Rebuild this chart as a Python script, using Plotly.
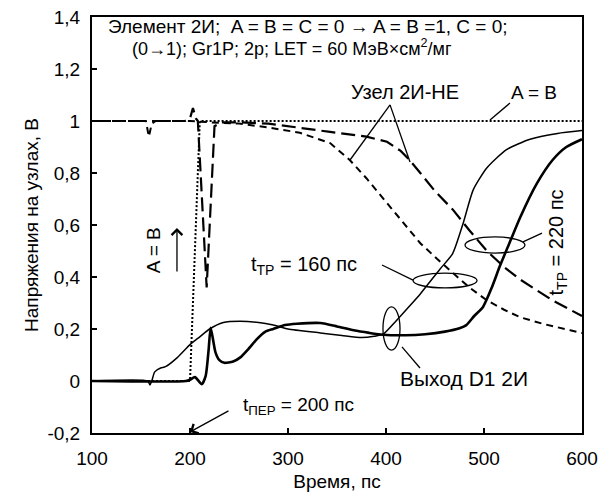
import plotly.graph_objects as go

# ---------------- data ----------------
# input signal A = B (dotted)
t_in = [100, 200, 210, 600]
v_in = [0, 0, 1, 1]

# output D1 2И, t_ТР = 160 ps (thin solid)
t_out160 = [100, 157, 159, 161, 164, 170, 175, 187, 200, 210, 220, 234, 251, 270, 285, 300,
            333, 355, 375, 388, 397, 410, 422, 435, 455, 468, 479, 489, 503, 523, 547, 575, 600]
v_out160 = [0, 0, -0.015, 0.0, 0.035, 0.05, 0.055, 0.09, 0.14, 0.17, 0.20, 0.225, 0.23, 0.225, 0.215, 0.2,
            0.185, 0.175, 0.167, 0.172, 0.18, 0.23, 0.28, 0.335, 0.43, 0.49, 0.61, 0.735, 0.82, 0.89, 0.93, 0.952, 0.963]

# output D1 2И, t_ТР = 220 ps (thick solid)
t_out220 = [100, 196, 200, 205, 212, 216, 219, 221, 223, 226, 230, 235, 244, 251, 260, 268, 277, 285,
            297, 309, 333, 350, 367, 383, 397, 420, 440, 460, 475, 482, 490, 499, 508, 516, 527, 537,
            554, 570, 584, 600]
v_out220 = [0, 0, 0.005, 0.015, -0.012, 0.02, 0.12, 0.205, 0.17, 0.11, 0.08, 0.07, 0.075, 0.09, 0.125, 0.16, 0.19, 0.2,
            0.215, 0.22, 0.223, 0.21, 0.195, 0.185, 0.178, 0.176, 0.18, 0.19, 0.203, 0.215, 0.25, 0.285, 0.36, 0.44, 0.54, 0.63,
            0.76, 0.85, 0.9, 0.93]

# node 2И-НЕ, t_ТР = 220 ps (long dash)
t_node220 = [100, 195, 200, 203, 206, 208, 217, 225, 232, 250, 280, 312, 343, 380, 401, 415, 424, 435,
             450, 468, 485, 503, 520, 537, 555, 570, 585, 600]
v_node220 = [1, 1, 1.01, 1.05, 1.01, 1.0, 0.36, 0.98, 0.995, 0.995, 0.99, 0.975, 0.958, 0.94, 0.92, 0.885, 0.85, 0.80,
             0.73, 0.66, 0.58, 0.50, 0.44, 0.39, 0.345, 0.31, 0.28, 0.25]

# node 2И-НЕ, t_ТР = 160 ps (short dash)
t_node160 = [100, 155, 158, 161, 165, 200, 220, 250, 280, 312, 343, 363, 380, 400, 424, 435, 452, 468,
             485, 503, 520, 537, 560, 588, 600]
v_node160 = [1, 1, 0.94, 0.99, 1.0, 1.0, 0.995, 0.99, 0.975, 0.955, 0.915, 0.85, 0.78, 0.69, 0.58, 0.53, 0.47, 0.415,
             0.36, 0.31, 0.275, 0.245, 0.22, 0.195, 0.185]

x_ticks = [100, 200, 300, 400, 500, 600]
y_ticks = [-0.2, 0, 0.2, 0.4, 0.6, 0.8, 1.0, 1.2, 1.4]
y_tick_labels = ["-0,2", "0", "0,2", "0,4", "0,6", "0,8", "1", "1,2", "1,4"]

FONT = "Liberation Sans, Arial, sans-serif"
BLACK = "#000000"
FS = 19

fig = go.Figure()
fig.add_trace(go.Scatter(x=t_in, y=v_in, mode="lines", line=dict(color=BLACK, width=2, dash="2px,2px")))
fig.add_trace(go.Scatter(x=t_node160, y=v_node160, mode="lines", line=dict(color=BLACK, width=2, dash="7px,5px")))
fig.add_trace(go.Scatter(x=t_node220, y=v_node220, mode="lines", line=dict(color=BLACK, width=2.2, dash="14px,6px")))
fig.add_trace(go.Scatter(x=t_out160, y=v_out160, mode="lines", line=dict(color=BLACK, width=1.5, shape="spline", smoothing=0.6)))
fig.add_trace(go.Scatter(x=t_out220, y=v_out220, mode="lines", line=dict(color=BLACK, width=2.6, shape="spline", smoothing=0.6)))

lw = dict(color=BLACK, width=1.3)
shapes = [
    # ellipses
    dict(type="circle", xref="x", yref="y", x0=427.6, x1=492.9, y0=0.358, y1=0.415, line=lw),
    dict(type="circle", xref="x", yref="y", x0=480.6, x1=541.8, y0=0.492, y1=0.554, line=lw),
    dict(type="circle", xref="x", yref="y", x0=396.9, x1=414.3, y0=0.119, y1=0.285, line=lw),
    # leader lines
    dict(type="line", xref="x", yref="y", x0=404.1, y0=1.062, x1=363.3, y1=0.85, line=lw),
    dict(type="line", xref="x", yref="y", x0=404.1, y0=1.062, x1=424.5, y1=0.842, line=lw),
    dict(type="line", xref="x", yref="y", x0=526.5, y0=1.069, x1=506.1, y1=1.004, line=lw),
    dict(type="line", xref="x", yref="y", x0=395.9, y0=0.446, x1=427.6, y1=0.388, line=lw),
    dict(type="line", xref="x", yref="y", x0=539.8, y0=0.535, x1=559.2, y1=0.569, line=lw),
    dict(type="line", xref="x", yref="y", x0=416.3, y0=0.131, x1=434.7, y1=0.05, line=lw),
]

def tfont(size):
    return dict(family=FONT, size=size, color=BLACK)

ann = [
    dict(x=320.4, y=1.365, text="Элемент 2И;  A = B = C = 0 → A = B =1, C = 0;", font=tfont(19)),
    dict(x=304.0, y=1.283, text="(0→1); Gr1P; 2p; LET = 60 МэВ×см<sup>2</sup>/мг", font=tfont(18)),
    dict(x=419.4, y=1.11, text="Узел 2И-НЕ", font=tfont(20)),
    dict(x=551.0, y=1.11, text="A = B", font=tfont(19)),
    dict(x=163.5, y=0.504, text="A = B", textangle=-90, font=tfont(19)),
    dict(x=316.0, y=0.446, text="t<sub>ТР</sub> = 160 пс", font=tfont(20)),
    dict(x=575.0, y=0.531, text="t<sub>ТР</sub> = 220 пс", textangle=-90, font=tfont(20)),
    dict(x=479.6, y=0.008, text="Выход D1 2И", font=tfont(21)),
    dict(x=311.0, y=-0.096, text="t<sub>ПЕР</sub> = 200 пс", font=tfont(19)),
]
annotations = []
for a in ann:
    d = dict(xref="x", yref="y", showarrow=False, xanchor="center", yanchor="middle")
    d.update(a)
    annotations.append(d)
# arrows
annotations.append(dict(xref="x", yref="y", axref="x", ayref="y", x=186.7, y=0.588, ax=186.7, ay=0.415,
                        text="", showarrow=True, arrowhead=4, arrowsize=1.6, arrowwidth=1.3, arrowcolor=BLACK))
annotations.append(dict(xref="x", yref="y", axref="x", ayref="y", x=200.0, y=-0.196, ax=240.8, ay=-0.112,
                        text="", showarrow=True, arrowhead=4, arrowsize=1.6, arrowwidth=1.3, arrowcolor=BLACK))

fig.update_layout(
    width=611, height=493,
    margin=dict(l=92, r=29, t=17, b=60),
    paper_bgcolor="white", plot_bgcolor="white",
    showlegend=False,
    font=dict(family=FONT, size=FS, color=BLACK),
    shapes=shapes,
    annotations=annotations,
    xaxis=dict(range=[100, 600], tickvals=x_ticks, ticks="inside", ticklen=5, tickwidth=1.5,
               tickcolor=BLACK, showline=True, linecolor=BLACK, linewidth=2, mirror=True,
               showgrid=False, zeroline=False, tickfont=dict(size=FS), ticklabelstandoff=7,
               automargin=False,
               title=dict(text="Время, пс", font=dict(size=FS), standoff=7)),
    yaxis=dict(range=[-0.2, 1.4], tickvals=y_ticks, ticktext=y_tick_labels, ticks="inside", ticklen=5,
               tickwidth=1.5, tickcolor=BLACK, showline=True, linecolor=BLACK, linewidth=2, mirror=True,
               showgrid=False, zeroline=False, tickfont=dict(size=FS), ticklabelstandoff=6,
               automargin=False,
               title=dict(text="Напряжения на узлах, В", font=dict(size=FS), standoff=4)),
)

fig.write_html("out.html")
